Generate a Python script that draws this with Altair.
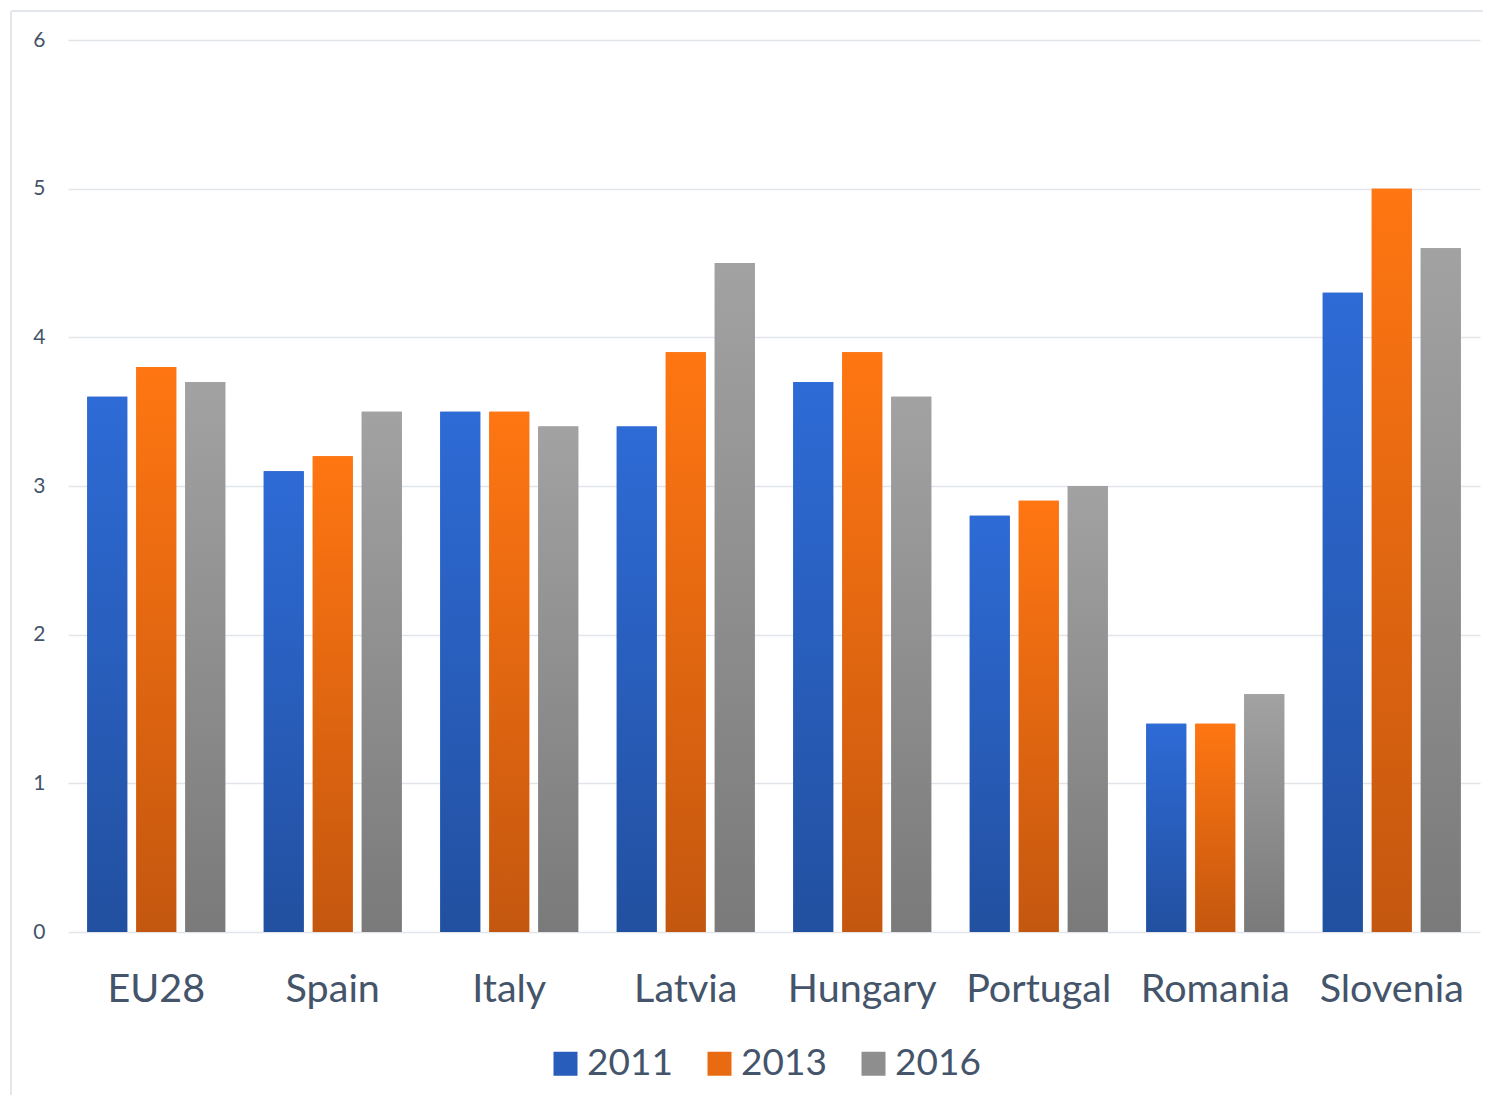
import altair as alt
import pandas as pd

countries = ["EU28", "Spain", "Italy", "Latvia", "Hungary", "Portugal", "Romania", "Slovenia"]
years = ["2011", "2013", "2016"]
v2011 = [3.6, 3.1, 3.5, 3.4, 3.7, 2.8, 1.4, 4.3]
v2013 = [3.8, 3.2, 3.5, 3.9, 3.9, 2.9, 1.4, 5.0]
v2016 = [3.7, 3.5, 3.4, 4.5, 3.6, 3.0, 1.6, 4.6]
y_ticks = [0, 1, 2, 3, 4, 5, 6]

top_colors = ["#2E6BD6", "#FF7612", "#A2A2A2"]
bottom_colors = ["#2250A0", "#C4570F", "#7A7A7A"]
mid_colors = ["#285DBB", "#E86A11", "#8E8E8E"]

rows = []
for yr, vals in zip(years, [v2011, v2013, v2016]):
    for c, v in zip(countries, vals):
        rows.append({"country": c, "year": yr, "value": v})
df = pd.DataFrame(rows)

TEXT = "#44546A"
FONT = "Lato"

x_enc = alt.X(
    "country:N",
    sort=countries,
    scale=alt.Scale(paddingInner=0, paddingOuter=0),
    axis=alt.Axis(
        title=None, labelAngle=0, labelFontSize=39.5, labelFont=FONT,
        labelColor=TEXT, labelPadding=38, ticks=False, domain=False, grid=False,
    ),
)
xo_enc = alt.XOffset(
    "year:N",
    scale=alt.Scale(domain=years, paddingInner=0.184, paddingOuter=0.393),
)
y_enc = alt.Y(
    "value:Q",
    scale=alt.Scale(domain=[0, 6]),
    axis=alt.Axis(
        title=None, values=y_ticks, labelFontSize=21, labelFont=FONT,
        labelColor=TEXT, labelPadding=23, ticks=False, domain=False,
        gridColor="#E1E5EA", gridWidth=1.5, minExtent=55, maxExtent=55,
    ),
)

base = alt.Chart(df).mark_bar().encode(
    x=x_enc,
    xOffset=xo_enc,
    y=y_enc,
    color=alt.Color(
        "year:N",
        scale=alt.Scale(domain=years, range=mid_colors),
        legend=alt.Legend(
            orient="none", legendX=479, legendY=1005, direction="horizontal", title=None,
            labelFontSize=37, labelFont=FONT, labelColor=TEXT, padding=0,
            symbolType="square", symbolSize=576, symbolStrokeWidth=0,
            labelOffset=3, columnPadding=28,
        ),
    ),
)

layers = [base]
for yr, tc, bc in zip(years, top_colors, bottom_colors):
    grad = {
        "gradient": "linear", "x1": 0, "y1": 0, "x2": 0, "y2": 1,
        "stops": [{"offset": 0, "color": tc}, {"offset": 1, "color": bc}],
    }
    layers.append(
        alt.Chart(df).transform_filter(alt.datum.year == yr)
        .mark_bar(fill=grad)
        .encode(x=x_enc, xOffset=xo_enc, y=y_enc)
    )

border_df = pd.DataFrame({"a": [0]})
top_border = alt.Chart(border_df).mark_rule(color="#E3E6EB", strokeWidth=2).encode(
    x=alt.value(-57), x2=alt.value(1415), y=alt.value(-29)
)
left_border = alt.Chart(border_df).mark_rule(color="#E3E6EB", strokeWidth=2).encode(
    x=alt.value(-57), y=alt.value(-29), y2=alt.value(1055)
)
layers += [top_border, left_border]

chart = alt.layer(*layers).properties(
    width=1412, height=892,
    padding={"left": 2, "top": 2, "right": 0, "bottom": 0},
).configure(background="white").configure_view(stroke=None)

chart.save("out.html", embed_options={"renderer": "svg", "actions": False})
